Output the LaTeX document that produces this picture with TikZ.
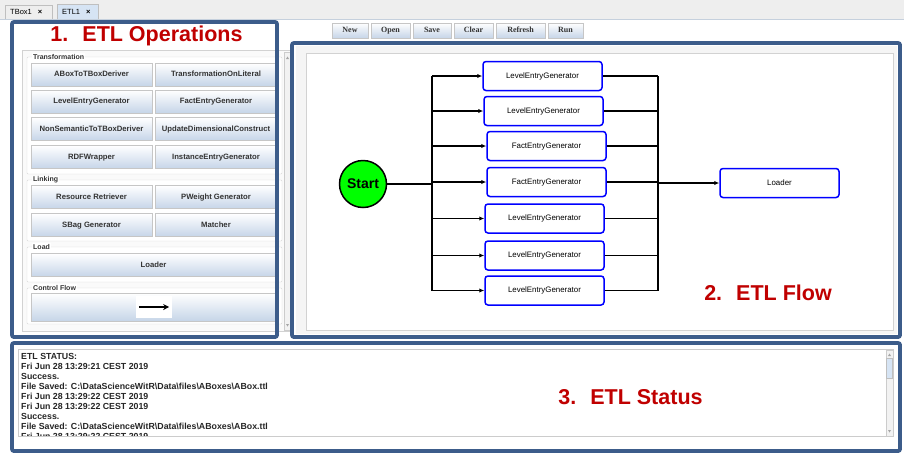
\documentclass[tikz,border=0pt]{standalone}
\usepackage{fontspec}
\setmainfont{Liberation Sans}
\newfontfamily\btnfont{Liberation Serif}
\usetikzlibrary{arrows.meta, positioning}

\definecolor{panelblue}{RGB}{60,92,138}
\definecolor{titlered}{RGB}{192,0,0}
\definecolor{btnshade}{RGB}{198,213,232}
\definecolor{startgreen}{RGB}{0,255,0}
\definecolor{flowblue}{RGB}{0,0,255}
\definecolor{wingray}{RGB}{238,238,238}
\definecolor{tabblue}{RGB}{214,228,244}

\tikzset{
  panel/.style={draw=panelblue, line width=3.8pt, rounded corners=2pt},
  paneltitle/.style={text=titlered, font=\fontsize{21.5}{24}\selectfont\bfseries},
  opbtn/.style={draw=gray!45, top color=white, bottom color=btnshade,
    minimum width=121pt, minimum height=23pt, inner sep=0pt,
    text height=5.6pt, text depth=1.6pt,
    font=\fontsize{7.7}{8}\selectfont\bfseries, text=black!80},
  toolbtn/.style={draw=gray!45, top color=white, bottom color=btnshade,
    minimum height=15pt, inner sep=0pt, text height=5.6pt, text depth=1.6pt,
    font=\btnfont\fontsize{8}{9}\selectfont\bfseries, text=black!80},
  grplabel/.style={anchor=west, inner sep=1pt, fill=white,
    font=\fontsize{7}{8}\selectfont\bfseries, text=black!80},
  grpframe/.style={draw=gray!30, rounded corners=1pt},
  flowbox/.style={draw=flowblue, line width=1.5pt, rounded corners=3pt, fill=white,
    minimum width=119pt, minimum height=29pt, inner sep=0pt,
    text height=5.8pt, text depth=1.7pt, font=\fontsize{7.9}{9}\selectfont},
  startnode/.style={circle, draw=black, line width=1.5pt, fill=startgreen,
    minimum size=47pt, inner sep=0pt, font=\fontsize{14}{15}\selectfont\bfseries},
  flowline/.style={line width=1.4pt},
  flowarrow/.style={line width=1.4pt, -{Latex[length=5pt,width=4.5pt]}},
  tablabel/.style={font=\fontsize{7.5}{8}\selectfont, inner sep=0pt}
}

\begin{document}
\begin{tikzpicture}[x=1pt, y=-1pt, >=Latex]
\useasboundingbox (0,0) rectangle (904,453);

% window and tabs
\fill[white] (0,0) rectangle (904,453);
\fill[wingray] (0,0) rectangle (904,19);
\draw[tabblue!80!gray] (0,19.5) -- (904,19.5);
\draw[gray!50, fill=wingray] (5,19) -- (5,5) -- (52,5) -- (52,19);
\node[tablabel, anchor=west] (tbox) at (10,12) {TBox1\hspace{6pt}\textbf{×}};
\draw[gray!50, fill=tabblue] (57,19) -- (57,4) -- (98,4) -- (98,19);
\node[tablabel, anchor=west] (etl) at (62,12) {ETL1\hspace{6pt}\textbf{×}};

% 1. ETL operations panel
\draw[gray!35, fill=gray!4] (22,50) rectangle (292,331);
\draw[gray!40, fill=gray!10] (284,52) rectangle (291,330);
\fill[gray!70] (286,59) -- (289,59) -- (287.5,56.5) -- cycle;
\fill[gray!70] (286,324) -- (289,324) -- (287.5,326.5) -- cycle;

\draw[grpframe, fill=white] (27,57) rectangle (282,174);
\node[grplabel] (gtrans) at (32,57) {Transformation};
\node[opbtn] (aboxderiver) at (91.5,74.5) {ABoxToTBoxDeriver};
\node[opbtn] (translit) at (216,74.5) {TransformationOnLiteral};
\node[opbtn] (levelgen) at (91.5,101.5) {LevelEntryGenerator};
\node[opbtn] (factgen) at (216,101.5) {FactEntryGenerator};
\node[opbtn] (nonsem) at (91.5,129) {NonSemanticToTBoxDeriver};
\node[opbtn] (updim) at (216,129) {UpdateDimensionalConstruct};
\node[opbtn] (rdfwrap) at (91.5,157) {RDFWrapper};
\node[opbtn] (instgen) at (216,157) {InstanceEntryGenerator};

\draw[grpframe, fill=white] (27,180) rectangle (282,241);
\node[grplabel] (glink) at (32,180) {Linking};
\node[opbtn] (resret) at (91.5,197) {Resource Retriever};
\node[opbtn] (pweight) at (216,197) {PWeight Generator};
\node[opbtn] (sbag) at (91.5,225) {SBag Generator};
\node[opbtn] (matcher) at (216,225) {Matcher};

\draw[grpframe, fill=white] (27,247) rectangle (282,282);
\node[grplabel] (gload) at (32,247) {Load};
\node[opbtn, minimum width=245pt] (loadbtn) at (153.5,265) {Loader};

\draw[grpframe, fill=white] (27,288) rectangle (282,324);
\node[grplabel] (gcontrol) at (32,288) {Control Flow};
\node[opbtn, minimum width=245pt, minimum height=28pt] (cfbtn) at (153.5,307) {};
\node[fill=white, minimum width=36pt, minimum height=22pt, inner sep=0pt] (cfimg) at (154,307) {};
\draw[line width=1.2pt, -{Stealth[length=6pt,width=6pt]}]
  ([xshift=3pt]cfimg.west) -- ([xshift=-3pt]cfimg.east);

\draw[panel] (12,22) rectangle (277,337);
\node[paneltitle] (optitle) at (146.5,36) {1.\hspace{14pt}ETL Operations};

% toolbar
\node[toolbtn, minimum width=36pt] (newbtn) at (350,30.5) {New};
\node[toolbtn, minimum width=39pt] (openbtn) at (390.5,30.5) {Open};
\node[toolbtn, minimum width=38pt] (savebtn) at (432,30.5) {Save};
\node[toolbtn, minimum width=39pt] (clearbtn) at (473.5,30.5) {Clear};
\node[toolbtn, minimum width=49pt] (refreshbtn) at (520.5,30.5) {Refresh};
\node[toolbtn, minimum width=35pt] (runbtn) at (565.5,30.5) {Run};

% 2. ETL flow panel
\fill[gray!8] (296,46) rectangle (897,334);
\draw[gray!35, fill=white] (306,53) rectangle (893,330);
\draw[panel] (292,43) rectangle (900,337);

\node[startnode] (start) at (363,184) {Start};
\node[flowbox] (le1) at (542.5,76) {LevelEntryGenerator};
\node[flowbox] (le2) at (543.5,111) {LevelEntryGenerator};
\node[flowbox] (fe1) at (546.5,146) {FactEntryGenerator};
\node[flowbox] (fe2) at (546.5,182) {FactEntryGenerator};
\node[flowbox] (le3) at (544.5,218.5) {LevelEntryGenerator};
\node[flowbox] (le4) at (544.5,255.5) {LevelEntryGenerator};
\node[flowbox] (le5) at (544.5,290.5) {LevelEntryGenerator};
\node[flowbox] (loader) at (779.5,183) {Loader};
\coordinate (lbus) at (432,184);
\coordinate (rbus) at (658,183);

\draw[flowline] (start.east) -- (lbus);
\draw[flowline] (le1.west -| lbus) -- (le5.west -| lbus);
\draw[flowline] (le1.east -| rbus) -- (le5.east -| rbus);
\foreach \b in {le1,le2,fe1,fe2,le3,le4,le5} {
  \draw[flowarrow] (\b.west -| lbus) -- (\b.west);
  \draw[flowline] (\b.east) -- (\b.east -| rbus);
}
\draw[flowarrow] (rbus) -- (loader.west);

\node[paneltitle] (flowtitle) at (768,293) {2.\hspace{14pt}ETL Flow};

% 3. ETL status panel
\draw[gray!40, fill=white] (18,349) rectangle (893,436);
\draw[gray!40, fill=gray!10] (886,350) rectangle (893,436);
\draw[gray!50, fill=tabblue] (886.5,358) rectangle (892.5,378);
\fill[gray!70] (888,356) -- (891,356) -- (889.5,353.5) -- cycle;
\fill[gray!70] (888,430) -- (891,430) -- (889.5,432.5) -- cycle;
\begin{scope}
  \clip (19,350) rectangle (885,435);
  \node[anchor=north west, align=left, inner sep=0pt, text=black!85,
    font=\fontsize{8.8}{10}\selectfont\bfseries] (status) at (21,353)
    {ETL STATUS:\\
     Fri Jun 28 13:29:21 CEST 2019\\
     Success.\\
     File Saved: C:\textbackslash DataScienceWitR\textbackslash Data\textbackslash files\textbackslash ABoxes\textbackslash ABox.ttl\\
     Fri Jun 28 13:29:22 CEST 2019\\
     Fri Jun 28 13:29:22 CEST 2019\\
     Success.\\
     File Saved: C:\textbackslash DataScienceWitR\textbackslash Data\textbackslash files\textbackslash ABoxes\textbackslash ABox.ttl\\
     Fri Jun 28 13:29:22 CEST 2019};
\end{scope}
\draw[panel] (12,343) rectangle (900,451);
\node[paneltitle] (statustitle) at (630.5,397) {3.\hspace{14pt}ETL Status};

\end{tikzpicture}
\end{document}
